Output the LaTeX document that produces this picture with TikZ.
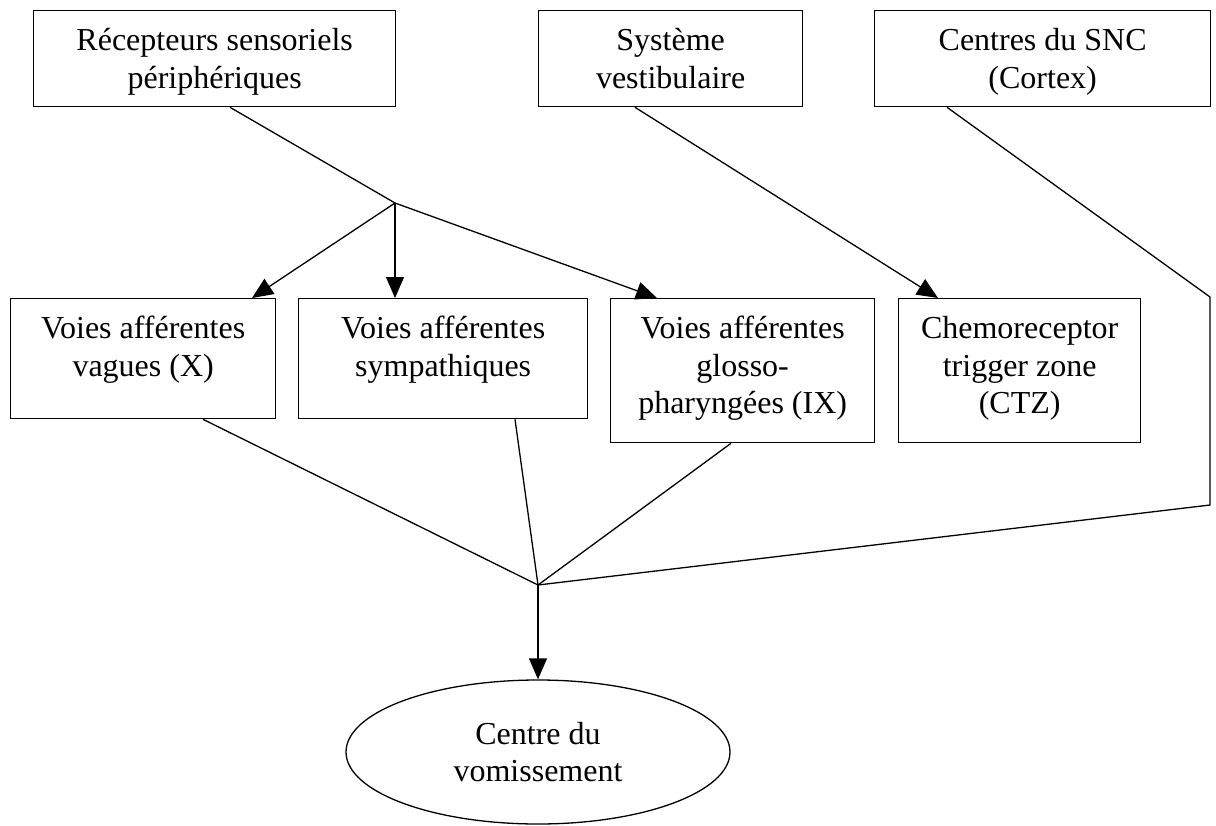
\documentclass[tikz,border=0pt]{standalone}
\usepackage{fontspec}
\setmainfont{Liberation Serif}
\usetikzlibrary{arrows.meta,shapes.geometric,calc}
\newlength\px \setlength\px{0.5pt}
\newcommand\mybx[4]{\parbox[c][#2\px][t]{#1\px}{\centering\rule{0pt}{#3\px}#4}}
\tikzset{
  box/.style={draw, line width=0.65pt, inner sep=0pt, anchor=north west,
    font=\fontsize{16pt}{18.75pt}\selectfont},
  conn/.style={line width=0.65pt},
  arr/.style={conn, -{Triangle[length=10.5pt, width=9pt]}},
}
\begin{document}
\begin{tikzpicture}[x=0.5pt, y=-0.5pt]
\useasboundingbox (0,0) rectangle (1216,825);
% top row
\node[box, minimum width=181pt, minimum height=48pt] (b1) at (33,10)
  {\mybx{362}{96}{40}{Récepteurs sensoriels\\périphériques}};
\node[box, minimum width=132pt, minimum height=48pt] (b2) at (538,10)
  {\mybx{264}{96}{40}{Système\\vestibulaire}};
\node[box, minimum width=168pt, minimum height=48pt] (b3) at (874,10)
  {\mybx{336}{96}{40}{Centres du SNC\\(Cortex)}};
% second row
\node[box, minimum width=132.5pt, minimum height=60pt] (b4) at (10,298)
  {\mybx{265}{120}{40}{Voies afférentes\\vagues (X)}};
\node[box, minimum width=144.5pt, minimum height=60pt] (b5) at (298,298)
  {\mybx{289}{120}{40}{Voies afférentes\\sympathiques}};
\node[box, minimum width=132pt, minimum height=72pt] (b6) at (610,298)
  {\mybx{264}{144}{40}{Voies afférentes\\glosso-\\pharyngées (IX)}};
\node[box, minimum width=121pt, minimum height=72pt] (b7) at (898,298)
  {\mybx{242}{144}{40}{Chemoreceptor\\trigger zone\\(CTZ)}};
% ellipse
\node[ellipse, draw, line width=0.65pt, inner sep=0pt, minimum width=192pt,
  minimum height=72pt, align=center, font=\fontsize{16pt}{18.75pt}\selectfont]
  (e) at (538,752) {Centre du\\vomissement};
% junctions
\coordinate (j1) at (395,203);
\coordinate (j2) at (538,585);
\coordinate (c1) at (1210,297);
\coordinate (c2) at (1210,505);
% connectors
\draw[conn] ($(b1.south west)+(197,0)$) -- (j1);
\draw[arr] (j1) -- ($(b4.north west)+(242,0)$);
\draw[arr] (j1) -- ($(b5.north west)+(97,0)$);
\draw[arr] (j1) -- ($(b6.north west)+(47,0)$);
\draw[arr] ($(b2.south west)+(97,0)$) -- ($(b7.north west)+(40,0)$);
\draw[conn] ($(b3.south west)+(73,0)$) -- (c1) -- (c2) -- (j2);
\draw[conn] ($(b4.south west)+(193,0)$) -- (j2);
\draw[conn] ($(b5.south west)+(217,0)$) -- (j2);
\draw[conn] ($(b6.south west)+(121,0)$) -- (j2);
\draw[arr] (j2) -- (e.north);
\end{tikzpicture}
\end{document}
